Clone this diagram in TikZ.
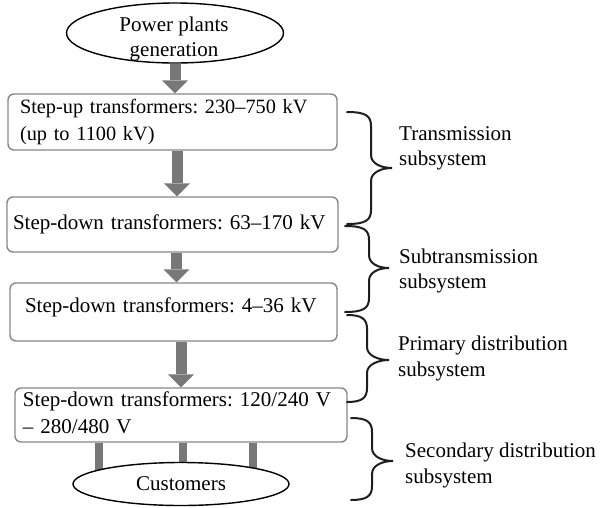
\documentclass[tikz,border=0pt]{standalone}
\usepackage{fontspec}
\setmainfont{Liberation Serif}
\usetikzlibrary{arrows.meta,shapes.geometric,calc,backgrounds}
\frenchspacing

\definecolor{framegray}{RGB}{135,135,135}
\definecolor{flowgray}{RGB}{120,120,120}
\definecolor{inkblack}{RGB}{30,30,30}

% right-hand curly brace: end x, spine x, tip x, top y, tip y, bottom y
\newcommand\subsysbrace[6]{%
  \draw[bracket] (#1,#4) .. controls ({#2-5},#4) and (#2,{#4+4}) .. (#2,{#4+14})
    -- (#2,{#5-13}) .. controls (#2,{#5-4}) and ({#3-10},#5) .. (#3,#5)
    .. controls ({#3-10},#5) and (#2,{#5+4}) .. (#2,{#5+13})
    -- (#2,{#6-14}) .. controls (#2,{#6-4}) and ({#2-5},#6) .. (#1,#6);}

% left-aligned block of lines inside a stage box
\newcommand\stagetext[1]{\begin{tabular}{@{}l@{}}#1\end{tabular}}

\begin{document}
\begin{tikzpicture}[x=1pt,y=-1pt,
  stage/.style={draw=framegray, line width=1.4pt, rounded corners=6pt,
    inner ysep=0pt, font=\fontsize{21}{27}\selectfont},
  endpoint/.style={ellipse, draw=black, line width=1.4pt, inner sep=0pt, fill=white,
    font=\fontsize{21}{25}\selectfont},
  flow/.style={draw=flowgray, line width=11pt,
    -{Triangle[width=26pt,length=13pt,line width=0pt]}},
  feeder/.style={draw=flowgray, line width=8pt},
  bracket/.style={draw=inkblack, line width=2pt, line cap=round},
  caption/.style={anchor=west, inner sep=0pt, align=left,
    font=\fontsize{21}{25.5}\selectfont}]

\useasboundingbox (0,0) rectangle (600,507);

% source and sink
\node[endpoint, minimum width=217pt, minimum height=60pt] (gen) at (175,33) {};
\node[align=center, inner sep=0pt, font=\fontsize{21}{25}\selectfont] (gentext) at (174,38.5) {Power plants\\generation};
\node[endpoint, minimum width=216pt, minimum height=43pt] (cust) at (181,484) {Customers};

% transformer stages
\node[stage, text width=305pt, inner xsep=12pt, minimum height=56pt,
      font=\fontsize{20.3}{27}\selectfont] (up) at (172.5,122)
  {\stagetext{Step-up transformers: 230--750 kV\\(up to 1100 kV)}};
\node[stage, text width=319pt, inner xsep=6pt, minimum height=55pt] (mid) at (172.5,224.5)
  {\stagetext{Step-down transformers: 63--170 kV}};
\node[stage, text width=297pt, inner xsep=15pt, minimum height=58pt] (dist) at (173.5,312)
  {\raisebox{5pt}[\height][\depth]{\stagetext{Step-down transformers: 4--36 kV}}};
\node[stage, text width=316pt, inner xsep=8pt, minimum height=54pt] (low) at (181,415)
  {\stagetext{Step-down transformers: 120/240 V\\-- 280/480 V}};

% power flow between stages
\draw[flow] (gen.south) -- (gen.south |- up.north);
\coordinate (a2) at ($(up.south)+(4.5,0)$);
\draw[flow] (a2) -- (a2 |- mid.north);
\coordinate (a3) at ($(mid.south)+(4,0)$);
\draw[flow] (a3) -- (a3 |- dist.north);
\draw[flow] (low.north |- dist.south) -- (low.north);

% service drops to customers
\begin{scope}[on background layer]
  \foreach \dx in {-82,1.5,72}
    \draw[feeder] ($(low.south)+(\dx,0)$) -- ($(cust.center)+(\dx,0)$);
\end{scope}

% subsystem braces and captions
\subsysbrace{347}{371}{392}{112}{168}{224}
\subsysbrace{345}{369}{389}{226}{268}{312}
\subsysbrace{347}{367}{389}{315}{360}{402}
\subsysbrace{351}{372}{393}{418}{461}{500}

\node[caption] (tr) at (399,148.5) {Transmission\\subsystem};
\node[caption] (st) at (399,271) {Subtransmission\\subsystem};
\node[caption] (pd) at (398,358.5) {Primary distribution\\subsystem};
\node[caption] (sd) at (405,465.5) {Secondary distribution\\subsystem};
\end{tikzpicture}
\end{document}
